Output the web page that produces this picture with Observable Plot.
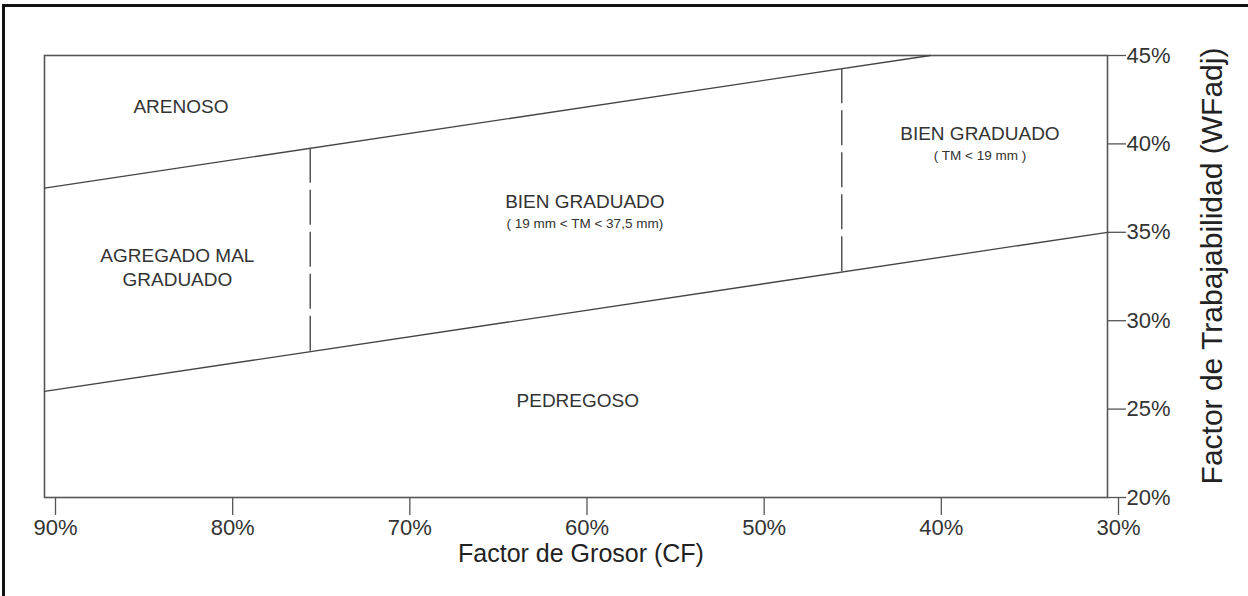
<!DOCTYPE html>
<html>
<head>
<meta charset="utf-8">
<script src="https://cdn.jsdelivr.net/npm/d3@7"></script>
<script src="https://cdn.jsdelivr.net/npm/@observablehq/plot@0.6"></script>
<style>
  html, body { margin: 0; padding: 0; background: #fff; }
  #wrap { position: relative; width: 1248px; height: 596px; overflow: hidden; }
  #border { position: absolute; left: 2px; top: 4px; right: -10px; bottom: -10px;
            border-top: 3px solid #111; border-left: 3px solid #111; pointer-events: none; }
  #ytitle { position: absolute; left: 1212px; top: 266px; transform: translate(-50%, -50%) rotate(-90deg);
            white-space: nowrap; font-family: 'Liberation Sans', Arial, sans-serif; font-size: 30px;
            color: #222; line-height: 1; }
</style>
</head>
<body>
<div id="wrap"><div id="chart"></div><div id="ytitle"></div><div id="border"></div></div>
<script>
// Axis ticks
const cfTicks = [90, 80, 70, 60, 50, 40, 30];
const wfTicks = [20, 25, 30, 35, 40, 45];

// Boundary lines (CF %, WFadj %)
const upperCF = [90, 40];
const upperWF = [37.5, 45];
const lowerCF = [90, 30];
const lowerWF = [26, 35];

// Dashed dividers
const dividerCF = [75, 45];
const dividerLow = [28.25, 32.75];
const dividerHigh = [39.75, 44.25];

// Region labels
const regionNames = ["ARENOSO", "AGREGADO MAL\nGRADUADO", "BIEN GRADUADO", "BIEN GRADUADO", "PEDREGOSO"];
const regionCF = [82.3, 82.5, 59.5, 37.2, 59.9];
const regionWF = [42.2, 33.05, 36.8, 40.65, 25.55];

const noteNames = ["( 19 mm < TM < 37,5 mm)", "( TM < 19 mm )"];
const noteCF = [59.5, 37.2];
const noteWF = [35.5, 39.35];

const xTitle = "Factor de Grosor (CF)";
const yTitle = "Factor de Trabajabilidad (WFadj)";

const upper = upperCF.map((c, i) => ({cf: c, wf: upperWF[i]}));
const lower = lowerCF.map((c, i) => ({cf: c, wf: lowerWF[i]}));
const dividers = dividerCF.map((c, i) => ({cf: c, lo: dividerLow[i], hi: dividerHigh[i]}));
const regions = regionNames.map((n, i) => ({name: n, cf: regionCF[i], wf: regionWF[i]}));
const notes = noteNames.map((n, i) => ({name: n, cf: noteCF[i], wf: noteWF[i]}));

const ink = "#444";
const plot = Plot.plot({
  width: 1248,
  height: 596,
  marginLeft: 44,
  marginRight: 141,
  marginTop: 55,
  marginBottom: 99,
  x: {domain: [90, 30]},
  y: {domain: [20, 45]},
  style: {fontFamily: "'Liberation Sans', Arial, sans-serif", color: "#333", background: "white"},
  marks: [
    Plot.frame({stroke: "#555", strokeWidth: 1.6}),
    Plot.axisX({ticks: cfTicks, tickFormat: d => d + "%", tickSize: 18, tickPadding: 4,
                fontSize: 22, dx: 11, label: null, stroke: "#555", strokeWidth: 1.3, fill: "#333"}),
    Plot.axisY({anchor: "right", ticks: wfTicks, tickFormat: d => d + "%", tickSize: 18, tickPadding: 1,
                fontSize: 22, label: null, stroke: "#555", strokeWidth: 1.3, fill: "#333"}),
    Plot.line(upper, {x: "cf", y: "wf", stroke: ink, strokeWidth: 1.3}),
    Plot.line(lower, {x: "cf", y: "wf", stroke: ink, strokeWidth: 1.3}),
    Plot.ruleX(dividers, {x: "cf", y1: "hi", y2: "lo", stroke: "#555", strokeWidth: 1.5, strokeDasharray: "35,7"}),
    Plot.text(regions, {x: "cf", y: "wf", text: "name", fontSize: 19, fill: "#333", lineHeight: 1.26}),
    Plot.text(notes, {x: "cf", y: "wf", text: "name", fontSize: 13.5, fill: "#333"}),
    Plot.text([xTitle], {frameAnchor: "bottom", text: d => d, dy: 56, dx: 5, fontSize: 25, fill: "#222", lineAnchor: "middle"})
  ]
});
document.getElementById("chart").appendChild(plot);
document.getElementById("ytitle").textContent = yTitle;
</script>
</body>
</html>
